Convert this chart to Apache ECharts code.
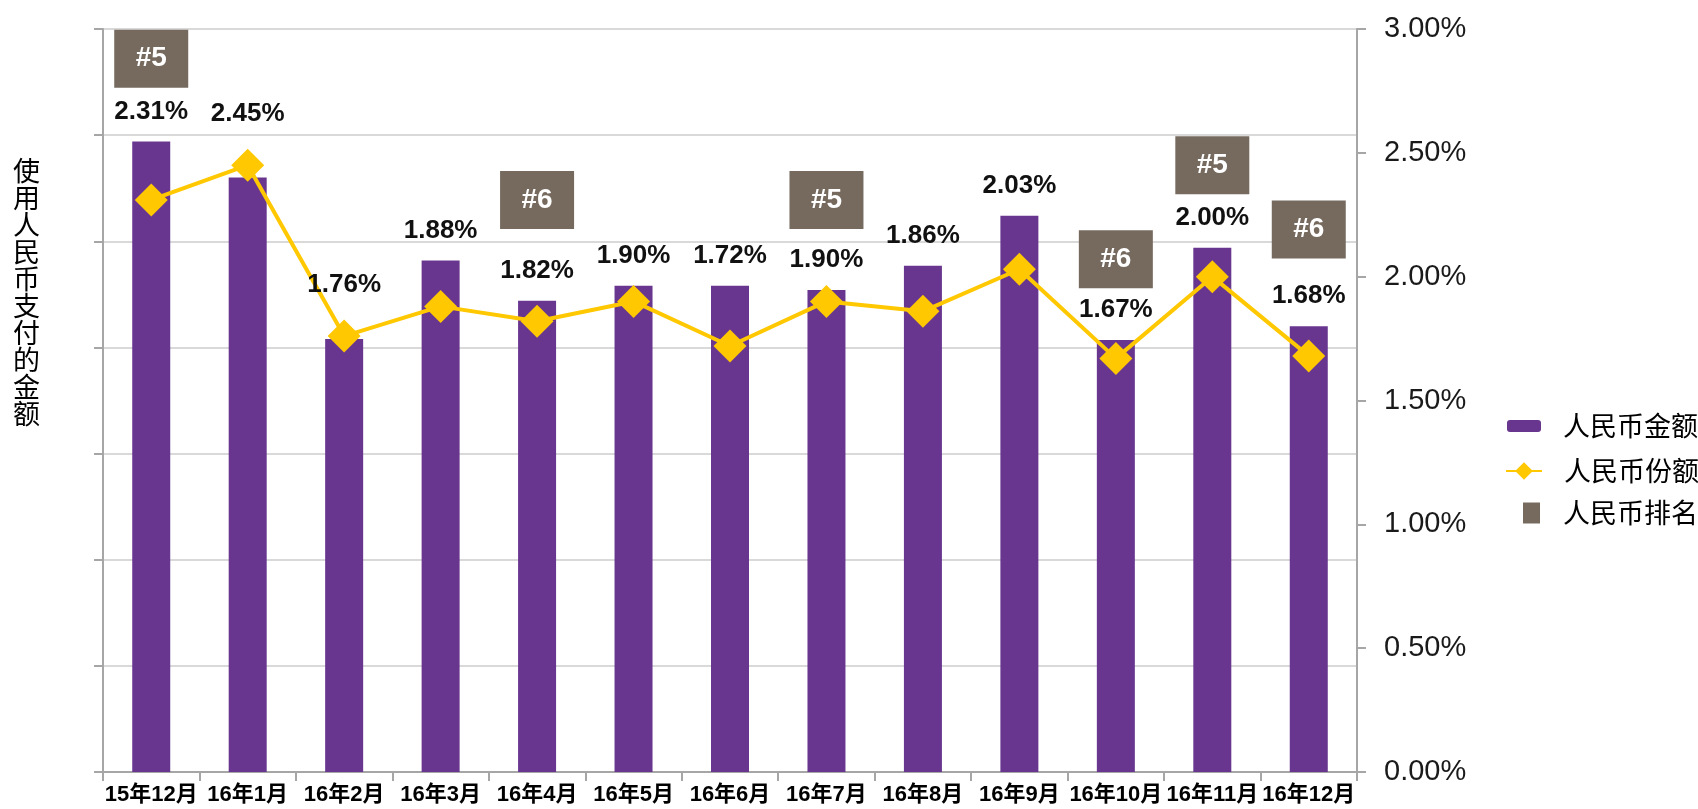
<!DOCTYPE html>
<html>
<head>
<meta charset="utf-8">
<title>人民币支付的金额与份额</title>
<script src="https://cdn.jsdelivr.net/npm/echarts@6/dist/echarts.min.js"></script>
<style>
  html, body { margin: 0; padding: 0; background: #fff; }
  #main { width: 1698px; height: 809px; }
</style>
</head>
<body>
<div id="main"></div>
<script>
// 数据
var months = ['15年12月', '16年1月', '16年2月', '16年3月', '16年4月', '16年5月', '16年6月',
              '16年7月', '16年8月', '16年9月', '16年10月', '16年11月', '16年12月'];
var amount = [5.94, 5.60, 4.08, 4.82, 4.44, 4.58, 4.58, 4.54, 4.77, 5.24, 4.07, 4.94, 4.20];
var share  = [2.31, 2.45, 1.76, 1.88, 1.82, 1.90, 1.72, 1.90, 1.86, 2.03, 1.67, 2.00, 1.68];
var rank   = [5, null, null, null, 6, null, null, 5, null, null, 6, 5, 6];
// 排名标签放在右轴的哪个高度
var rankTagAt = [2.88, null, null, null, 2.31, null, null, 2.31, null, null, 2.07, 2.45, 2.19];

var amountMax = 7;
var shareMax = 3;

var latin = '"Liberation Sans", Arial, "Noto Sans CJK SC", sans-serif';
var cjk = '"Noto Sans CJK SC", sans-serif';

// 折线点比柱子高时, 数值标签放在折线上
var onLine = share.map(function (s, i) {
    return s / shareMax > amount[i] / amountMax;
});

var valueLabel = {
    fontFamily: latin,
    fontSize: 26,
    fontWeight: 'bold',
    color: '#111'
};

var barData = amount.map(function (v, i) {
    return { value: v, label: { show: !onLine[i] } };
});
var lineData = share.map(function (v, i) {
    return { value: v, label: { show: onLine[i] } };
});
var rankData = [];
rank.forEach(function (r, i) {
    if (r != null) rankData.push({ value: [months[i], rankTagAt[i]], rank: r });
});

var legendText = { fontFamily: cjk, fontSize: 27, color: '#000', lineHeight: 30 };

// 纵轴标题竖排, 末尾空行把它往上推, 和原图位置对齐
var axisTitle = '使用人民币支付的金额'.split('').join('\n') + '\n\n\n\n\n\n\n\n';

var chart = echarts.init(document.getElementById('main'));
chart.setOption({
    animation: false,
    grid: { left: 103, right: 341, top: 29, bottom: 37 },
    legend: [
        {
            data: ['人民币金额'], orient: 'vertical', left: 1502, top: 406,
            itemWidth: 34, itemHeight: 12,
            textStyle: Object.assign({ padding: [0, 0, 0, 17] }, legendText)
        },
        {
            data: ['人民币份额'], orient: 'vertical', left: 1500, top: 451,
            itemWidth: 36, itemHeight: 22,
            textStyle: Object.assign({ padding: [0, 0, 0, 17] }, legendText)
        },
        {
            data: [{ name: '人民币排名', icon: 'rect' }], orient: 'vertical', left: 1518, top: 493,
            itemWidth: 17, itemHeight: 21,
            textStyle: Object.assign({ padding: [0, 0, 0, 18] }, legendText)
        }
    ],
    xAxis: {
        type: 'category',
        data: months,
        axisLine: { lineStyle: { color: '#a6a6a6', width: 2 } },
        axisTick: { show: true, length: 9, interval: 0, lineStyle: { color: '#a6a6a6', width: 2 } },
        axisLabel: {
            interval: 0,
            margin: 12,
            fontFamily: latin,
            fontSize: 22,
            fontWeight: 'bold',
            color: '#000'
        }
    },
    yAxis: [
        {
            type: 'value',
            min: 0,
            max: amountMax,
            interval: 1,
            name: axisTitle,
            nameLocation: 'middle',
            nameRotate: 0,
            nameGap: 63,
            nameTextStyle: {
                fontFamily: cjk,
                fontSize: 27,
                lineHeight: 27,
                color: '#000'
            },
            axisLine: { show: true, lineStyle: { color: '#a6a6a6', width: 2 } },
            axisTick: { show: true, length: 9, lineStyle: { color: '#a6a6a6', width: 2 } },
            axisLabel: { show: false },
            splitLine: { lineStyle: { color: '#d9d9d9', width: 2 } }
        },
        {
            type: 'value',
            min: 0,
            max: shareMax,
            interval: 0.5,
            position: 'right',
            axisLine: { show: true, lineStyle: { color: '#a6a6a6', width: 2 } },
            axisTick: { show: true, length: 9, lineStyle: { color: '#a6a6a6', width: 2 } },
            axisLabel: {
                margin: 27,
                fontFamily: latin,
                fontSize: 29,
                color: '#1a1a1a',
                formatter: function (v) { return v.toFixed(2) + '%'; }
            },
            splitLine: { show: false }
        }
    ],
    series: [
        {
            name: '人民币金额',
            type: 'bar',
            yAxisIndex: 0,
            barWidth: 38,
            itemStyle: { color: '#68368f' },
            label: Object.assign({
                position: 'top',
                distance: 17,
                formatter: function (p) { return share[p.dataIndex].toFixed(2) + '%'; }
            }, valueLabel),
            data: barData
        },
        {
            name: '人民币份额',
            type: 'line',
            yAxisIndex: 1,
            symbol: 'diamond',
            symbolSize: 33,
            lineStyle: { color: '#ffc800', width: 4 },
            itemStyle: { color: '#ffc800' },
            label: Object.assign({
                position: 'top',
                distance: 22,
                formatter: function (p) { return p.value.toFixed(2) + '%'; }
            }, valueLabel),
            z: 3,
            data: lineData
        },
        {
            name: '人民币排名',
            type: 'scatter',
            yAxisIndex: 1,
            symbol: 'rect',
            symbolSize: [74, 58],
            itemStyle: { color: '#766a5f', opacity: 1 },
            label: {
                show: true,
                position: 'inside',
                fontFamily: latin,
                fontSize: 28,
                fontWeight: 'bold',
                color: '#fff',
                formatter: function (p) { return '#' + p.data.rank; }
            },
            z: 4,
            data: rankData
        }
    ]
});
</script>
</body>
</html>
